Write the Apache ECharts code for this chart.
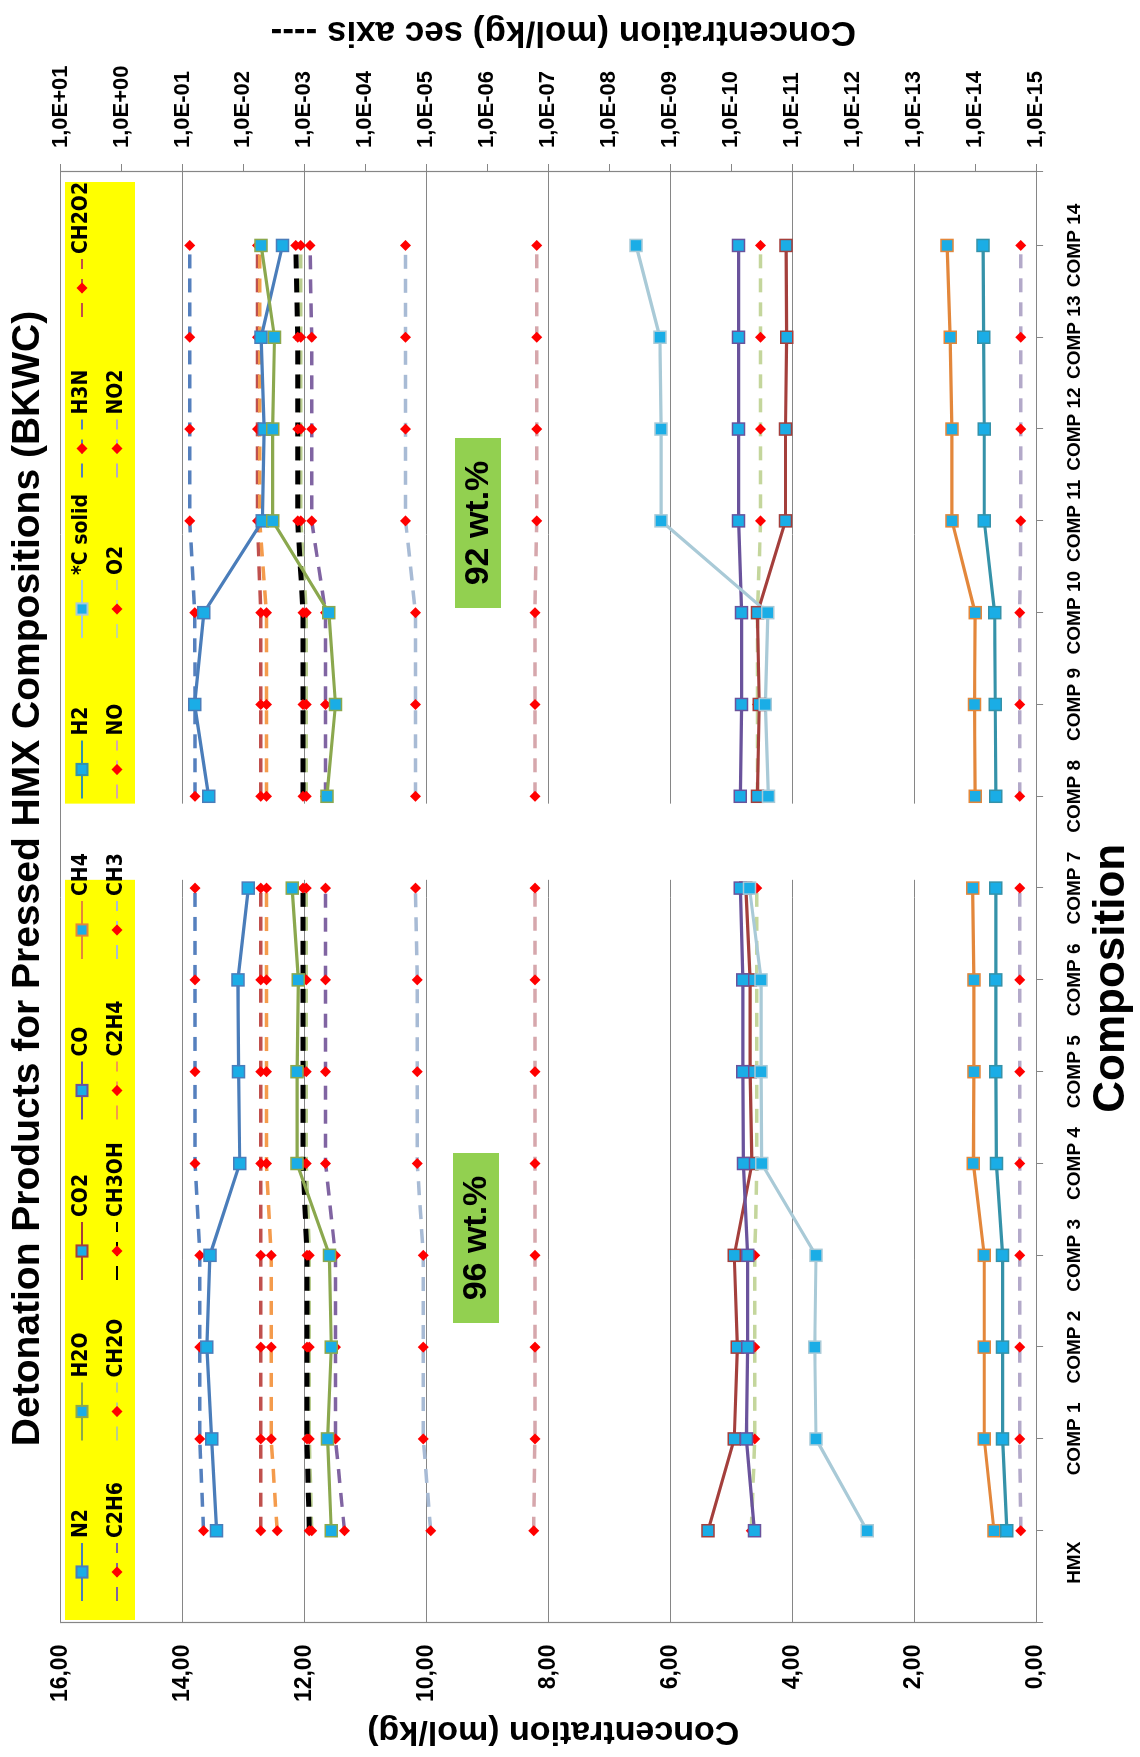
<!DOCTYPE html>
<html>
<head>
<meta charset="utf-8">
<script src="https://cdn.jsdelivr.net/npm/echarts@6/dist/echarts.min.js"></script>
<style>
html, body { margin:0; padding:0; background:#fff; overflow:hidden; width:1140px; height:1757px; }
#wrap { position:absolute; left:0; top:1757px; width:1757px; height:1140px; transform-origin:0 0; transform:rotate(-90deg); background:#fff; }
</style>
</head>
<body>
<div id="wrap"></div>
<script>
// ---------- data (mol/kg) ----------
const categories = ['HMX','COMP 1','COMP 2','COMP 3','COMP 4','COMP 5','COMP 6','COMP 7',
                    'COMP 8','COMP 9','COMP 10','COMP 11','COMP 12','COMP 13','COMP 14'];
const groupLabels = ['96 wt.%', '92 wt.%'];
const secondGroupStart = 8; // first category index of the 92 wt.% group

// primary axis (solid lines)
const N2      = [13.44, 13.52, 13.60, 13.55, 13.06, 13.08, 13.09, 12.92, 13.57, 13.80, 13.65, 12.69, 12.66, 12.71, 12.36];
const H2O     = [11.56, 11.62, 11.56, 11.59, 12.12, 12.12, 12.10, 12.20, 11.63, 11.49, 11.60, 12.52, 12.52, 12.49, 12.71];
const CO2     = [5.38, 4.95, 4.90, 4.95, 4.66, 4.69, 4.69, 4.76, 4.57, 4.54, 4.57, 4.11, 4.11, 4.09, 4.10];
const CO      = [4.62, 4.75, 4.73, 4.73, 4.80, 4.81, 4.81, 4.85, 4.85, 4.83, 4.83, 4.88, 4.88, 4.88, 4.88];
const CH4     = [0.69, 0.85, 0.85, 0.85, 1.03, 1.02, 1.02, 1.04, 1.00, 1.01, 1.00, 1.38, 1.38, 1.41, 1.46];
const H2      = [0.48, 0.55, 0.55, 0.55, 0.65, 0.66, 0.66, 0.66, 0.66, 0.67, 0.68, 0.85, 0.85, 0.86, 0.87];
const C_SOLID = [2.77, 3.61, 3.63, 3.61, 4.50, 4.51, 4.51, 4.70, 4.39, 4.44, 4.40, 6.15, 6.15, 6.17, 6.56];

// secondary axis (dashed lines, log scale)
const H3N   = [4.5e-2, 5.2e-2, 5.2e-2, 5.2e-2, 6.2e-2, 6.2e-2, 6.2e-2, 6.2e-2, 6.2e-2, 6.2e-2, 6.3e-2, 7.6e-2, 7.6e-2, 7.6e-2, 7.6e-2];
const CH2O2 = [5.2e-3, 5.2e-3, 5.2e-3, 5.2e-3, 5.2e-3, 5.2e-3, 5.2e-3, 5.2e-3, 5.2e-3, 5.2e-3, 5.2e-3, 5.9e-3, 5.9e-3, 5.9e-3, 5.9e-3];
const C2H6  = [2.2e-4, 3.1e-4, 3.1e-4, 3.1e-4, 4.5e-4, 4.5e-4, 4.5e-4, 4.5e-4, 4.5e-4, 4.5e-4, 4.5e-4, 7.6e-4, 7.6e-4, 7.6e-4, 8.1e-4];
const CH2O  = [7.6e-4, 8.3e-4, 8.3e-4, 8.3e-4, 9.3e-4, 9.3e-4, 9.3e-4, 9.3e-4, 9.3e-4, 9.3e-4, 9.3e-4, 1.15e-3, 1.15e-3, 1.15e-3, 1.15e-3];
const CH3OH = [8.3e-4, 9.1e-4, 9.1e-4, 9.1e-4, 1.05e-3, 1.05e-3, 1.05e-3, 1.05e-3, 1.05e-3, 1.05e-3, 1.05e-3, 1.29e-3, 1.29e-3, 1.29e-3, 1.38e-3];
const C2H4  = [2.8e-3, 3.5e-3, 3.5e-3, 3.5e-3, 4.2e-3, 4.2e-3, 4.2e-3, 4.2e-3, 4.2e-3, 4.2e-3, 4.2e-3, 5.4e-3, 5.4e-3, 5.4e-3, 5.4e-3];
const CH3   = [8.5e-6, 1.12e-5, 1.12e-5, 1.12e-5, 1.41e-5, 1.41e-5, 1.41e-5, 1.51e-5, 1.51e-5, 1.51e-5, 1.51e-5, 2.19e-5, 2.19e-5, 2.19e-5, 2.19e-5];
const NO    = [1.74e-7, 1.66e-7, 1.66e-7, 1.66e-7, 1.66e-7, 1.66e-7, 1.66e-7, 1.66e-7, 1.66e-7, 1.66e-7, 1.66e-7, 1.55e-7, 1.55e-7, 1.55e-7, 1.55e-7];
const O2    = [4.7e-11, 4.1e-11, 4.1e-11, 4.1e-11, 3.8e-11, 3.8e-11, 3.8e-11, 3.8e-11, 3.7e-11, 3.7e-11, 3.7e-11, 3.3e-11, 3.3e-11, 3.3e-11, 3.3e-11];
const NO2   = [1.78e-15, 1.86e-15, 1.86e-15, 1.86e-15, 1.86e-15, 1.86e-15, 1.86e-15, 1.86e-15, 1.86e-15, 1.86e-15, 1.86e-15, 1.78e-15, 1.78e-15, 1.78e-15, 1.78e-15];

const primaryTicks = [0, 2, 4, 6, 8, 10, 12, 14, 16];
const secondaryExponents = [-15, 1]; // 1,0E-15 ... 1,0E+01, one tick per decade

const legendOrder = ['N2','H2O','CO2','CO','CH4','H2','*C solid','H3N','CH2O2',
                     'C2H6','CH2O','CH3OH','C2H4','CH3','NO','O2','NO2'];

// ---------- styles ----------
const FONT = "'Liberation Sans', Arial, sans-serif";
const NARROW = "'Liberation Sans Narrow', 'Arial Narrow', 'DejaVu Sans Condensed', 'Liberation Sans', sans-serif";
const SQUARE = '#1AADE6';
const DIAMOND = '#FF0000';

const primarySpecs = [
  ['N2', N2, '#4A7DBA'],
  ['H2O', H2O, '#8BA84E'],
  ['CO2', CO2, '#A43F3C'],
  ['CO', CO, '#6A539C'],
  ['CH4', CH4, '#E3873B'],
  ['H2', H2, '#3592A9'],
  ['*C solid', C_SOLID, '#A9CAD7']
];
const secondarySpecs = [
  ['H3N', H3N, '#5580BE', 3.5],
  ['CH2O2', CH2O2, '#C0504D', 3.5],
  ['C2H6', C2H6, '#8064A2', 3.5],
  ['CH2O', CH2O, '#B9CD8E', 3.5],
  ['CH3OH', CH3OH, '#000000', 5],
  ['C2H4', C2H4, '#F49B4C', 3.5],
  ['CH3', CH3, '#A8BBD5', 3.5],
  ['NO', NO, '#D6A7AC', 3.5],
  ['O2', O2, '#C4D69C', 3.5],
  ['NO2', NO2, '#B3A9C9', 3.5]
];

function splitGroups(values) {
  const a = [], b = [];
  values.forEach((v, i) => { (i < secondGroupStart ? a : b).push([i, v]); });
  return [a, b];
}

const series = [];
secondarySpecs.forEach(([name, vals, color, w]) => {
  splitGroups(vals).forEach(d => {
    series.push({
      type: 'line', name, yAxisIndex: 1, data: d, z: 2,
      symbol: 'diamond', symbolSize: 11, showSymbol: true,
      lineStyle: { color, width: w, type: [14, 10] },
      itemStyle: { color: DIAMOND, borderWidth: 0 },
      emphasis: { disabled: true }, animation: false
    });
  });
});
primarySpecs.forEach(([name, vals, color], k) => {
  splitGroups(vals).forEach((d, g) => {
    const s = {
      type: 'line', name, yAxisIndex: 0, data: d, z: 3,
      symbol: 'rect', symbolSize: 12, showSymbol: true,
      lineStyle: { color, width: 3.2 },
      itemStyle: { color: SQUARE, borderColor: color, borderWidth: 1.5 },
      emphasis: { disabled: true }, animation: false
    };
    if (k === 0 && g === 0) {
      // blank band separating the two composition groups
      s.markArea = {
        silent: true,
        itemStyle: { color: '#ffffff', opacity: 1 },
        data: [[{ xAxis: secondGroupStart - 0.91, yAxis: 0.02 }, { xAxis: secondGroupStart - 0.08, yAxis: 15.98 }]]
      };
    }
    series.push(s);
  });
});

// legend laid out as a 9-column grid (two rows)
const legendCols = 9;
const legends = [];
for (let c = 0; c < legendCols; c++) {
  const items = [legendOrder[c], legendOrder[c + legendCols]].filter(Boolean);
  legends.push({
    data: items, orient: 'vertical',
    left: 155 + c * 160.5, top: 69, padding: 0,
    itemWidth: 58, itemHeight: 14, itemGap: 9,
    selectedMode: false,
    textStyle: { fontFamily: NARROW, fontSize: 21, fontWeight: 'bold', color: '#000', lineHeight: 26 }
  });
}

const chart = echarts.init(document.getElementById('wrap'), null, { renderer: 'canvas', width: 1757, height: 1140 });

const axisGray = '#868686';
const option = {
  animation: false,
  backgroundColor: '#ffffff',
  title: {
    text: 'Detonation Products for Pressed HMX Compositions (BKWC)',
    left: 'center', top: 0, padding: [8, 0, 8, 20],
    textStyle: { fontFamily: FONT, fontSize: 39, fontWeight: 'bold', color: '#000', lineHeight: 40 }
  },
  legend: legends,
  graphic: [
    { type: 'rect', z: 1, silent: true, shape: { x: 137, y: 65, width: 1438, height: 70 }, style: { fill: '#FFFF00' } },
    { type: 'rect', z: 10, silent: true, shape: { x: 434, y: 453, width: 170, height: 46 }, style: { fill: '#92D050' } },
    { type: 'text', z: 11, silent: true, x: 519, y: 477,
      style: { text: groupLabels[0], fontFamily: FONT, fontSize: 34, fontWeight: 'bold', fill: '#000', align: 'center', verticalAlign: 'middle' } },
    { type: 'rect', z: 10, silent: true, shape: { x: 1149, y: 455, width: 170, height: 46 }, style: { fill: '#92D050' } },
    { type: 'text', z: 11, silent: true, x: 1234, y: 479,
      style: { text: groupLabels[1], fontFamily: FONT, fontSize: 34, fontWeight: 'bold', fill: '#000', align: 'center', verticalAlign: 'middle' } }
  ],
  grid: { left: 129, right: 172, top: 60.5, bottom: 100.6, containLabel: false },
  xAxis: {
    type: 'value', min: -1, max: 14.8, interval: 1,
    name: 'Composition', nameLocation: 'middle', nameGap: 50,
    nameTextStyle: { fontFamily: FONT, fontSize: 44, fontWeight: 'bold', color: '#000', lineHeight: 46, padding: [0, 162, 0, 0] },
    axisLine: { show: true, onZero: false, lineStyle: { color: axisGray, width: 1.2 } },
    axisTick: { show: true, inside: false, length: 7, lineStyle: { color: axisGray } },
    splitLine: { show: false },
    axisLabel: {
      margin: 29, color: '#000', fontFamily: FONT, fontSize: 19, fontWeight: 'bold',
      formatter: function (v) {
        const i = Math.round(v);
        if (Math.abs(v - i) > 1e-6 || i < 0 || i >= categories.length) return '';
        return i === 0 ? '{h|' + categories[i] + '}' : categories[i];
      },
      rich: { h: { fontFamily: FONT, fontSize: 19, fontWeight: 'bold', color: '#000', padding: [0, 64, 0, 0] } }
    }
  },
  yAxis: [
    {
      type: 'value', min: primaryTicks[0], max: primaryTicks[primaryTicks.length - 1], interval: primaryTicks[1] - primaryTicks[0],
      position: 'left',
      name: 'Concentration (mol/kg)', nameLocation: 'middle', nameRotate: 90, nameGap: 87,
      nameTextStyle: { fontFamily: FONT, fontSize: 34, fontWeight: 'bold', color: '#000', lineHeight: 36, padding: [0, 10, 0, 0] },
      axisLine: { show: true, onZero: false, lineStyle: { color: axisGray, width: 1.2 } },
      axisTick: { show: false },
      splitLine: { show: true, lineStyle: { color: axisGray, width: 1 } },
      axisLabel: {
        margin: 22, color: '#000', fontFamily: FONT, fontSize: 23, fontWeight: 'bold',
        formatter: v => v.toFixed(2).replace('.', ',')
      }
    },
    {
      // log scale used by the dashed series
      type: 'log', logBase: 10,
      min: Math.pow(10, secondaryExponents[0]), max: Math.pow(10, secondaryExponents[1]),
      position: 'right', show: false,
      axisLine: { onZero: false }
    },
    {
      // decade ticks / labels of the secondary (log) axis, in exponent units
      type: 'value', min: secondaryExponents[0], max: secondaryExponents[1], interval: 1,
      position: 'right',
      name: 'Concentration (mol/kg) sec axis ----', nameLocation: 'middle', nameRotate: 90, nameGap: 122,
      nameTextStyle: { fontFamily: FONT, fontSize: 35, fontWeight: 'bold', color: '#000', lineHeight: 36, padding: [0, 30, 0, 0] },
      axisLine: { show: true, onZero: false, lineStyle: { color: axisGray, width: 1.2 } },
      axisTick: { show: true, inside: false, length: 8, lineStyle: { color: axisGray } },
      splitLine: { show: false },
      axisLabel: {
        margin: 24, color: '#000', fontFamily: FONT, fontSize: 22, fontWeight: 'bold',
        formatter: function (e) {
          const a = Math.abs(Math.round(e));
          return '1,0E' + (e < 0 ? '-' : '+') + (a < 10 ? '0' + a : String(a));
        }
      }
    }
  ],
  series: series
};

chart.setOption(option);
</script>
</body>
</html>
